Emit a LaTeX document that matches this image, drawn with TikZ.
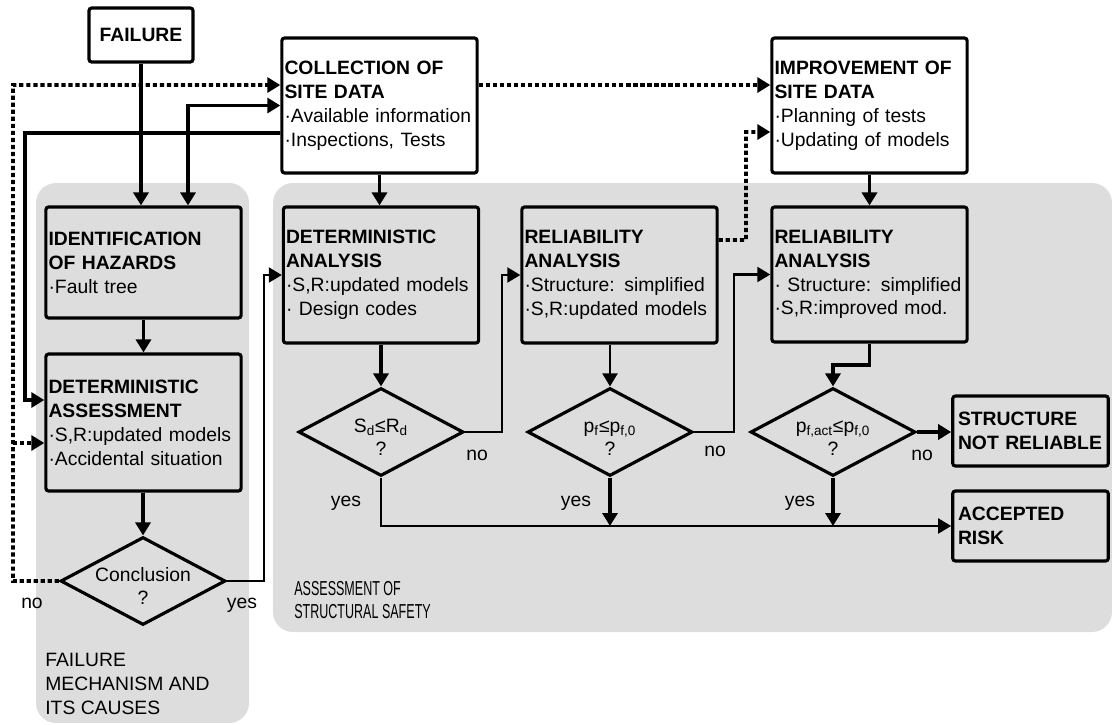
\documentclass[tikz,border=0pt]{standalone}
\usepackage{fontspec}
\setmainfont{Liberation Sans}
\newfontfamily\narrowfont[FakeStretch=0.62]{Liberation Sans}
\usetikzlibrary{positioning, arrows.meta, shapes.geometric, calc}
\definecolor{zonegray}{RGB}{221,221,221}

\begin{document}
\begin{tikzpicture}[
    x=0.02cm, y=-0.02cm,
    font=\fontsize{11}{13.6}\selectfont,
    basebox/.style={draw, line width=1.8pt, rounded corners=1.5pt, inner xsep=1.5pt, inner ysep=2pt, align=left},
    stagebox/.style={basebox, text width=3.8cm},
    endbox/.style={basebox, inner xsep=3pt, text width=2.9cm, minimum height=1.4cm, font=\fontsize{11}{13.6}\selectfont\bfseries},
    decision/.style={draw, diamond, line width=1.8pt, aspect=1.875, minimum width=3.3cm, minimum height=1.76cm, inner xsep=-8pt, inner ysep=0pt, align=center, text height=27.2pt, text depth=0pt, font=\fontsize{11}{13.6}\selectfont},
    zonefill/.style={fill=zonegray, rounded corners=0.4cm},
    zonetext/.style={inner sep=0pt, align=left, anchor=west},
    answer/.style={inner sep=0pt},
    arrow/.style={-{Triangle[length=0.26cm, width=0.3cm]}, line width=2.2pt},
    thinarrow/.style={arrow, line width=1.2pt},
    botharrow/.style={arrow, {Triangle[length=0.26cm, width=0.3cm]}-{Triangle[length=0.26cm, width=0.3cm]}},
    dotarrow/.style={arrow, dash pattern=on 2.4pt off 1.6pt}
]
\useasboundingbox (0,0) rectangle (1112,724);
\fill[zonefill] (36,183) rectangle (249,723);
\fill[zonefill] (273,183) rectangle (1112,632);

\node[basebox, minimum width=2.08cm, minimum height=1.08cm, align=center, font=\fontsize{11}{13.6}\selectfont\bfseries] (failure) at (141,35) {FAILURE};
\node[stagebox, minimum height=2.7cm] (collect) at (379.5,105.5) {\textbf{COLLECTION OF}\\\textbf{SITE DATA}\\·Available information\\·Inspections, Tests};
\node[stagebox, minimum height=2.7cm] (improve) at (869.5,105.5) {\textbf{IMPROVEMENT OF}\\\textbf{SITE DATA}\\·Planning of tests\\·Updating of models};
\node[stagebox, minimum height=2.22cm] (hazard) at (143.5,262.5) {\textbf{IDENTIFICATION}\\\textbf{OF HAZARDS}\\·Fault tree};
\node[stagebox, minimum height=2.74cm] (detassess) at (143.5,422.5) {\textbf{DETERMINISTIC}\\\textbf{ASSESSMENT}\\·S,R:updated models\\·Accidental situation};
\node[stagebox, minimum height=2.72cm] (detanalysis) at (381,275) {\textbf{DETERMINISTIC}\\\textbf{ANALYSIS}\\·S,R:updated models\\· Design codes};
\node[stagebox, minimum height=2.72cm] (relsimple) at (619.5,275) {\textbf{RELIABILITY}\\\textbf{ANALYSIS}\\·Structure: simplified\\·S,R:updated models};
\node[stagebox, minimum height=2.7cm] (relimproved) at (869.5,274.5) {\textbf{RELIABILITY}\\\textbf{ANALYSIS}\\· Structure: simplified\\·S,R:improved mod.};

\node[decision] (conclusion) at (143,581) {Conclusion\\?};
\node[decision] (dcheck) at (381,432) {S\textsubscript{d}≤R\textsubscript{d}\\?};
\node[decision] (pcheck) at (610,432) {p\textsubscript{f}≤p\textsubscript{f,0}\\?};
\node[decision] (pactcheck) at (833,432) {p\textsubscript{f,act}≤p\textsubscript{f,0}\\?};

\node[endbox] (notreliable) at (1030.5,431) {STRUCTURE\\NOT RELIABLE};
\node[endbox] (accepted) at (1030.5,526) {ACCEPTED\\RISK};

\node[answer] (noconcl) at (32,603) {no};
\node[answer] (yesconcl) at (242,605) {yes};
\node[answer] (nod) at (477,455) {no};
\node[answer] (yesd) at (346,503) {yes};
\node[answer] (nop) at (715,451) {no};
\node[answer] (yesp) at (576,503) {yes};
\node[answer] (nopact) at (922,455) {no};
\node[answer] (yespact) at (800,503) {yes};

\node[zonetext] (failzone) at (45,684) {FAILURE\\MECHANISM AND\\ITS CAUSES};
\node[zonetext, font=\narrowfont\fontsize{11.5}{13.6}\selectfont] (safetyzone) at (294,600) {ASSESSMENT OF\\STRUCTURAL SAFETY};

\coordinate (dotbranch) at (13,443);

\draw[arrow] (failure.south) -- (failure.south |- hazard.north);
\draw[arrow] ([yshift=-0.55cm]collect.west) -- (25,133) |- ([yshift=0.45cm]detassess.west);
\draw[botharrow] ([xshift=0.89cm]hazard.north) |- (collect.west);
\draw[dotarrow] (conclusion.west) -| (13,85) -- ([yshift=0.41cm]collect.west);
\draw[dotarrow] (dotbranch) -- (dotbranch -| detassess.west);
\draw[dotarrow] ([yshift=0.41cm]collect.east) -- ([yshift=0.41cm]improve.west);
\draw[dotarrow] ([yshift=0.7cm]relsimple.east) -| (746,132) -- ([yshift=-0.53cm]improve.west);
\draw[arrow] (collect.south) -- (collect.south |- detanalysis.north);
\draw[arrow] (improve.south) -- (relimproved.north);
\draw[arrow] (hazard.south) -- (hazard.south |- detassess.north);
\draw[arrow] (conclusion.north |- detassess.south) -- (conclusion.north);
\draw[thinarrow] (conclusion.east) -- ++(37,0) |- (detanalysis.west);
\draw[arrow] (detanalysis.south) -- (dcheck.north);
\draw[thinarrow] (dcheck.east) -- ++(37,0) |- (relsimple.west);
\draw[thinarrow] (dcheck.south) |- (accepted.west);
\draw[thinarrow] (pcheck.north |- relsimple.south) -- (pcheck.north);
\draw[thinarrow] (pcheck.east) -- ++(40,0) |- (relimproved.west);
\draw[arrow] (pcheck.south) -- (pcheck.south |- accepted.west);
\draw[arrow] (relimproved.south) -- ++(0,21) -| (pactcheck.north);
\draw[arrow] (pactcheck.east) -- (pactcheck.east -| notreliable.west);
\draw[arrow] (pactcheck.south) -- (pactcheck.south |- accepted.west);
\end{tikzpicture}
\end{document}
